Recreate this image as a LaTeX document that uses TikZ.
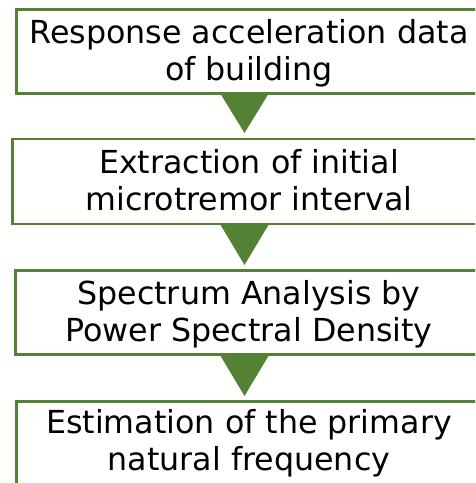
\documentclass[tikz,border=0pt]{standalone}
\usepackage{fontspec}
\setmainfont{DejaVu Sans}
\definecolor{boxgreen}{RGB}{84,130,53}
\begin{document}
\begin{tikzpicture}[x=1pt,y=-1pt,
  stepbox/.style={draw=boxgreen, line width=2.5pt, fill=white, inner sep=0pt,
                  minimum width=475pt, anchor=north west},
  arrowtri/.style={fill=boxgreen},
  txt/.style={anchor=base, inner sep=0pt, font=\fontsize{31.7}{37}\selectfont}]
\useasboundingbox (0,0) rectangle (475,483);
\clip (0,0) rectangle (475,483);
% boxes
\node[stepbox, minimum height=84pt] (b1) at (15,8) {};
\node[stepbox, minimum height=85pt] (b2) at (11,137.5) {};
\node[stepbox, minimum height=84pt] (b3) at (14,269) {};
\node[stepbox, minimum height=90pt] (b4) at (15,400) {};
% arrows
\fill[arrowtri] (220,93) -- (269,93) -- (244.5,133) -- cycle;
\fill[arrowtri] (220,224) -- (269,224) -- (244.5,265) -- cycle;
\fill[arrowtri] (220,355) -- (269,355) -- (244.5,396) -- cycle;
% texts
\node[txt] (t1a) at (249,43) {Response acceleration data};
\node[txt] (t1b) at (249,80) {of building};
\node[txt] (t2a) at (249,173) {Extraction of initial};
\node[txt] (t2b) at (249,210) {microtremor interval};
\node[txt] (t3a) at (249,304) {Spectrum Analysis by};
\node[txt] (t3b) at (249,341) {Power Spectral Density};
\node[txt] (t4a) at (249,433) {Estimation of the primary};
\node[txt] (t4b) at (249,470) {natural frequency};
\end{tikzpicture}
\end{document}
